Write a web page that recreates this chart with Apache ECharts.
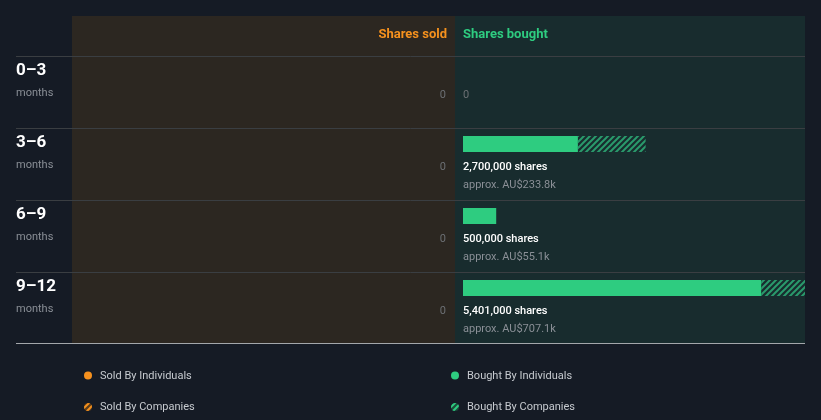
<!DOCTYPE html>
<html><head><meta charset="utf-8">
<script src="https://cdn.jsdelivr.net/npm/echarts@6/dist/echarts.min.js"></script>
<style>html,body{margin:0;padding:0;background:#151b25;}#c{width:821px;height:420px;}</style>
</head><body><div id="c"></div>
<script>
const periods = ['0–3', '3–6', '6–9', '9–12'];
const periodUnit = 'months';
const soldIndividuals = [0, 0, 0, 0];
const soldCompanies = [0, 0, 0, 0];
const boughtIndividuals = [0, 1730000, 500000, 4490000];
const boughtCompanies = [0, 1020000, 0, 911000];
const boughtShares = [0, 2700000, 500000, 5401000];
const boughtValue = ['', 'AU$233.8k', 'AU$55.1k', 'AU$707.1k'];
const axisMax = 5150000;
const legendItems = ['Sold By Individuals', 'Bought By Individuals', 'Sold By Companies', 'Bought By Companies'];

const FONT = 'Roboto, "Noto Sans", sans-serif';
const ORANGE = '#f5911e', GREEN = '#2ecc80';
const ROW0 = 56, ROWH = 72;

function hatch(color, bg) {
  const s = 6, c = document.createElement('canvas');
  c.width = s; c.height = s;
  const g = c.getContext('2d');
  if (bg) { g.fillStyle = bg; g.fillRect(0, 0, s, s); }
  g.strokeStyle = color; g.lineWidth = 2;
  g.beginPath();
  g.moveTo(0, s); g.lineTo(s, 0);
  g.moveTo(-s/2, s/2); g.lineTo(s/2, -s/2);
  g.moveTo(s/2, s*1.5); g.lineTo(s*1.5, s/2);
  g.stroke();
  return c;
}
const greenHatch = hatch('#2a9a6c');

const chart = echarts.init(document.getElementById('c'), null, {renderer: 'canvas'});

const grids = [], xAxes = [], yAxes = [], series = [], graphics = [];
// panels
graphics.push({type: 'rect', shape: {x: 72, y: 16, width: 383, height: 327}, style: {fill: '#2c2721'}, z: 0});
graphics.push({type: 'rect', shape: {x: 455, y: 16, width: 350, height: 327}, style: {fill: '#182c2e'}, z: 0});
graphics.push({type: 'text', style: {text: 'Shares sold', x: 447, y: 35, align: 'right', verticalAlign: 'middle', fill: ORANGE, font: 'bold 13px ' + FONT}, z: 2});
graphics.push({type: 'text', style: {text: 'Shares bought', x: 463, y: 35, align: 'left', verticalAlign: 'middle', fill: GREEN, font: 'bold 13px ' + FONT}, z: 2});

periods.forEach((p, i) => {
  const top = ROW0 + i * ROWH;
  graphics.push({type: 'line', shape: {x1: 16, y1: top + 0.5, x2: 805, y2: top + 0.5}, style: {stroke: '#3a3e42', lineWidth: 1}, z: 1});
  graphics.push({type: 'text', style: {text: p, x: 16, y: top + 15, verticalAlign: 'middle', fill: '#ffffff', font: 'bold 17px ' + FONT}, z: 2});
  graphics.push({type: 'text', style: {text: periodUnit, x: 16, y: top + 37, verticalAlign: 'middle', fill: '#8a8f96', font: '11px ' + FONT}, z: 2});
  const soldTotal = soldIndividuals[i] + soldCompanies[i];
  graphics.push({type: 'text', style: {text: soldTotal.toLocaleString('en-US'), x: 446, y: top + 39, align: 'right', verticalAlign: 'middle', fill: '#6c7074', font: '11px ' + FONT}, z: 2});
  if (boughtShares[i] === 0) {
    graphics.push({type: 'text', style: {text: '0', x: 463, y: top + 39, verticalAlign: 'middle', fill: '#6c7074', font: '11px ' + FONT}, z: 2});
  } else {
    graphics.push({type: 'text', style: {text: boughtShares[i].toLocaleString('en-US') + ' shares', x: 463, y: top + 39, verticalAlign: 'middle', fill: '#ffffff', font: '500 11px ' + FONT}, z: 2});
    graphics.push({type: 'text', style: {text: 'approx. ' + boughtValue[i], x: 463, y: top + 57, verticalAlign: 'middle', fill: '#8a8f96', font: '11px ' + FONT}, z: 2});
  }
  // bought grid
  grids.push({left: 463, width: 342, top: top + 8, height: 16, containLabel: false});
  xAxes.push({type: 'value', gridIndex: i, min: 0, max: axisMax, show: false});
  yAxes.push({type: 'category', gridIndex: i, data: [p], show: false});
  series.push({type: 'bar', name: 'Bought By Individuals', xAxisIndex: i, yAxisIndex: i, stack: 'b' + i, barWidth: 16, clip: true, z: 5,
    data: [boughtIndividuals[i]], itemStyle: {color: GREEN}, silent: true, animation: false});
  series.push({type: 'bar', name: 'Bought By Companies', xAxisIndex: i, yAxisIndex: i, stack: 'b' + i, barWidth: 16, clip: true, z: 5,
    data: [boughtCompanies[i]], itemStyle: {color: {image: greenHatch, repeat: 'repeat'}}, silent: true, animation: false});
});
graphics.push({type: 'rect', shape: {x: 16, y: 343, width: 789, height: 1}, style: {fill: '#a3a7ab'}, z: 3});

// legend
const orangeHatch = hatch('#f5911e', '#5a3c1a');
const greenHatchIcon = hatch('#2ecc80', '#1c4a3a');
const legendPos = [[88, 375.5], [455, 375.5], [88, 407], [455, 407]];
legendItems.forEach((name, k) => {
  const [cx, cy] = legendPos[k];
  const isSold = name.startsWith('Sold');
  const isComp = name.includes('Companies');
  const fill = isComp ? {image: isSold ? orangeHatch : greenHatchIcon, repeat: 'repeat'} : (isSold ? ORANGE : GREEN);
  graphics.push({type: 'circle', shape: {cx: cx, cy: cy, r: 4}, style: {fill: fill}, z: 2});
  graphics.push({type: 'text', style: {text: name, x: cx + 12, y: cy + 0.5, verticalAlign: 'middle', fill: '#c6cacf', font: '11px ' + FONT}, z: 2});
});

chart.setOption({
  backgroundColor: '#151b25',
  animation: false,
  grid: grids, xAxis: xAxes, yAxis: yAxes, series: series,
  graphic: {elements: graphics}
});
</script></body></html>
